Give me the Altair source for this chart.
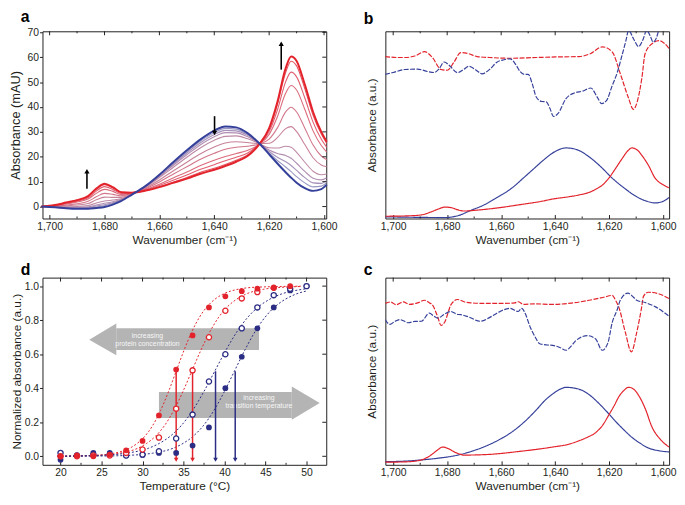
import altair as alt
import pandas as pd

FONT = "Liberation Sans"
INK = "#231f20"
RED = "#e3232b"
BLUE = "#35409a"
NAVY = "#2b2c83"
GREY = "#b4b4b4"
W, H = 288, 190

# ---------------- panel a : temperature series of spectra ----------------
a_wn = [1703, 1698, 1694, 1690, 1686, 1683, 1680, 1677, 1674, 1670, 1665, 1660, 1655, 1650,
        1645, 1640, 1636, 1632, 1628, 1624, 1620, 1617, 1614, 1612, 1610, 1607, 1604, 1601, 1599]
a_s0 = [0, -0.3, -0.7, -0.9, -0.9, -0.6, -0.2, 0.8, 2.2, 4.8, 8.3, 12.8, 17.8, 22.6, 27.0, 30.5, 32.2,
        31.8, 29.6, 25.8, 21.0, 17.3, 13.8, 11.6, 9.6, 7.4, 6.3, 7.0, 8.8]
a_s1 = [0, -0.3, -0.6, -0.7, -0.6, -0.2, 0.3, 1.2, 2.4, 4.8, 8.2, 12.6, 17.4, 22.0, 26.3, 29.7, 31.4,
        31.1, 29.1, 25.7, 21.5, 18.5, 15.9, 14.0, 12.0, 9.5, 7.9, 8.2, 9.7]
a_s2 = [0, -0.2, -0.5, -0.6, -0.4, 0.2, 0.7, 1.5, 2.6, 4.9, 8.1, 12.3, 17.0, 21.5, 25.6, 28.9, 30.6,
        30.4, 28.7, 25.7, 22.1, 19.8, 18.0, 16.5, 14.5, 11.6, 9.5, 9.3, 10.5]
a_s3 = [0, -0.2, -0.3, -0.3, -0.1, 0.6, 1.3, 1.9, 2.8, 4.9, 8.0, 12.0, 16.5, 20.8, 24.8, 28.0, 29.7,
        29.6, 28.1, 25.6, 22.7, 21.3, 20.5, 19.4, 17.4, 14.1, 11.4, 10.7, 11.6]
a_s4 = [0, -0.1, -0.1, 0.0, 0.4, 1.4, 2.2, 2.6, 3.1, 5.0, 7.8, 11.6, 15.7, 19.8, 23.6, 26.6, 28.2,
        28.4, 27.3, 25.5, 23.6, 23.5, 24.2, 23.8, 21.8, 17.8, 14.2, 12.8, 13.1]
a_s5 = [0, 0.1, 0.3, 0.6, 1.2, 2.7, 3.8, 3.7, 3.7, 5.1, 7.5, 10.7, 14.3, 17.8, 21.2, 23.9, 25.5,
        26.0, 25.7, 25.3, 25.4, 27.7, 31.3, 32.1, 30.1, 24.9, 19.6, 16.7, 16.0]
a_s6 = [0, 0.2, 0.6, 1.1, 2.1, 3.9, 5.3, 4.9, 4.3, 5.3, 7.2, 9.9, 13.0, 16.0, 19.0, 21.4, 23.0,
        23.8, 24.2, 25.0, 27.1, 31.6, 38.0, 39.9, 38.0, 31.5, 24.7, 20.3, 18.8]
a_s7 = [0, 0.4, 1.0, 1.8, 3.0, 5.3, 6.9, 6.1, 4.9, 5.4, 6.9, 9.0, 11.5, 13.9, 16.5, 18.6, 20.1,
        21.3, 22.5, 24.8, 29.0, 36.1, 45.5, 48.6, 46.8, 39.0, 30.4, 24.5, 21.9]
a_s8 = [0, 0.5, 1.3, 2.1, 3.5, 6.2, 8.0, 6.9, 5.3, 5.5, 6.7, 8.5, 10.6, 12.7, 15.0, 16.8, 18.4,
        19.8, 21.4, 24.7, 30.1, 38.8, 50.1, 54.0, 52.1, 43.6, 33.9, 27.0, 23.8]
a_s9 = [0, 0.6, 1.5, 2.5, 4.0, 6.9, 8.8, 7.5, 5.7, 5.6, 6.5, 8.0, 9.8, 11.7, 13.8, 15.4, 16.9,
        18.6, 20.6, 24.6, 31.1, 41.0, 53.8, 58.4, 56.5, 47.3, 36.7, 29.1, 25.3]
a_s10 = [0, 0.6, 1.6, 2.6, 4.2, 7.2, 9.2, 7.8, 5.8, 5.6, 6.4, 7.8, 9.5, 11.2, 13.2, 14.8, 16.3,
         18.0, 20.2, 24.5, 31.5, 42.0, 55.5, 60.3, 58.5, 49.0, 38.0, 30.0, 26.0]
a_mid_colors = ["#8d89bb", "#9b86b3", "#a982a8", "#b67c9b", "#c2738c", "#cd677d",
                "#d75b6e", "#de4e60", "#e24250"]
a_arrow_x = [1686.4, 1639.9, 1615.6]
a_arrow_from = [7.2, 36.3, 55.0]
a_arrow_to = [14.2, 29.5, 65.4]
a_arrow_shape = ["triangle-up", "triangle-down", "triangle-up"]
a_yticks = [0, 10, 20, 30, 40, 50, 60, 70]

# ---------------- panel b : spectra + second derivatives ----------------
b_blue_wn = [1703, 1690, 1681, 1676, 1671.3, 1666, 1661.6, 1656, 1651.8, 1648, 1644.5, 1640, 1636,
             1632, 1627.4, 1623, 1618.9, 1614, 1610.4, 1606, 1603, 1600, 1597.8]
b_blue_v = [0.9, 0.6, 0.5, 1.5, 4.3, 7.5, 11.2, 16.3, 21.6, 26.5, 31.0, 35.8, 37.7,
            36.8, 32.9, 27.5, 21.6, 15.8, 12.1, 9.2, 8.3, 9.2, 11.2]
b_red_wn = [1703, 1695, 1689.6, 1686, 1683, 1681, 1678.5, 1676, 1673.8, 1668, 1660, 1653, 1645,
            1640.9, 1635, 1631.1, 1627, 1625, 1622, 1620.1, 1617.5, 1615.2, 1613, 1611.6, 1609.5,
            1607.9, 1605.5, 1603, 1600, 1597.8]
b_red_v = [1.2, 1.4, 1.9, 3.5, 5.2, 6.1, 5.8, 4.6, 4.0, 4.6, 5.9, 7.4, 9.2,
           10.4, 11.6, 12.6, 14.2, 15.6, 18.5, 21.6, 27.0, 32.0, 36.3, 37.7, 36.5,
           33.7, 28.5, 21.6, 18.0, 16.4]
b_red_d_wn = [1703, 1698, 1695.7, 1692, 1688.4, 1685.5, 1682.3, 1680, 1677.5, 1675, 1672, 1668.9,
              1663, 1656.7, 1647, 1640, 1631.1, 1627, 1622.5, 1618.9, 1615.8, 1613, 1611, 1609.5,
              1607.9, 1606.7, 1604, 1601.5, 1599.5, 1597.8]
b_red_d_v = [86.5, 86.0, 86.0, 86.8, 89.1, 86.0, 79.6, 79.2, 83.5, 88.6, 88.0, 86.5,
             85.9, 85.6, 86.0, 86.3, 86.5, 88.0, 91.7, 89.0, 77.0, 65.0, 58.3, 63.0,
             75.0, 88.0, 93.5, 95.0, 93.5, 90.8]
b_blue_d_wn = [1703, 1700, 1695.7, 1691, 1687.2, 1684.8, 1683, 1681.1, 1679, 1676.2, 1674, 1672,
               1669.5, 1667.1, 1664, 1661.6, 1659, 1656.7, 1654.5, 1653, 1651.5, 1650, 1648.5,
               1647, 1645, 1643.3, 1642, 1640.6, 1639, 1636, 1633, 1629.9, 1626.8, 1624.5,
               1622.8, 1621, 1618.9, 1617, 1615.2, 1613.8, 1612.8, 1611, 1609.1, 1607.5, 1606.1,
               1604.8, 1603.7, 1602.5, 1601.5, 1600]
b_blue_d_v = [77.0, 78.0, 79.6, 79.8, 78.5, 78.0, 80.0, 83.6, 81.5, 77.9, 79.5, 81.3,
              79.5, 77.3, 80.0, 83.5, 84.8, 85.3, 82.0, 78.5, 77.0, 77.0, 72.0,
              64.9, 62.5, 62.3, 59.0, 54.5, 56.0, 64.0, 67.0, 68.0, 69.7, 65.0,
              61.4, 63.0, 70.9, 78.0, 87.4, 95.0, 100.5, 96.0, 91.8, 95.5, 100.5,
              97.5, 94.2, 96.5, 101.5, 110.0]

# ---------------- panel c : spectra + second derivatives ----------------
c_blue_wn = [1703, 1695, 1689.6, 1683, 1677.4, 1671, 1665.2, 1660, 1655.5, 1651, 1647, 1643.5,
             1640.9, 1638, 1636, 1633, 1629.9, 1627, 1623.8, 1620.5, 1617.7, 1614.5, 1611.6,
             1608.5, 1605.5, 1601.5, 1597.8]
c_blue_v = [1.7, 2.0, 2.6, 3.6, 4.8, 7.2, 10.3, 14.0, 18.1, 23.5, 29.3, 34.8,
            37.9, 40.5, 41.4, 41.0, 39.7, 37.0, 32.8, 27.8, 23.3, 18.6, 14.7,
            11.5, 9.0, 7.5, 6.9]
c_red_wn = [1703, 1695, 1689.6, 1686, 1683.5, 1681.7, 1679.5, 1677.4, 1675, 1673.8, 1665.2, 1653,
            1640.9, 1635, 1631.1, 1628, 1625, 1622.5, 1620.1, 1618, 1616.5, 1614.5, 1612.8, 1611,
            1609.1, 1606.5, 1604.3, 1601, 1597.8]
c_red_v = [1.4, 1.6, 2.6, 5.2, 8.0, 9.5, 8.6, 6.9, 5.6, 5.2, 5.5, 7.2,
           9.5, 11.0, 12.9, 14.8, 17.2, 21.0, 26.7, 32.0, 36.2, 39.8, 41.4, 40.5,
           37.1, 29.5, 20.7, 13.5, 9.5]
c_red_d_wn = [1703, 1701, 1698.8, 1696.3, 1693.9, 1691, 1688.4, 1686.5, 1685.4, 1683.5, 1682.3,
              1681, 1679.5, 1678.7, 1676.2, 1673.5, 1671.3, 1665, 1659.1, 1655, 1653.7, 1651.8,
              1648, 1640.9, 1634, 1627.4, 1622, 1618.9, 1617.5, 1616.5, 1614, 1611.8, 1609.8,
              1608, 1607.3, 1605.5, 1602, 1597.8]
c_red_d_v = [86.2, 87.0, 85.5, 87.0, 85.7, 86.5, 87.9, 86.5, 85.3, 79.0, 74.5,
             76.0, 82.0, 85.3, 88.3, 87.0, 86.5, 86.2, 86.2, 86.5, 87.1, 85.7,
             86.0, 85.7, 86.4, 87.9, 89.5, 90.5, 87.5, 84.5, 70.7, 60.3, 70.7,
             84.0, 90.0, 92.2, 91.5, 88.8]
c_blue_d_wn = [1703, 1701.2, 1699.5, 1697.6, 1696, 1694.5, 1692, 1689.6, 1686.6, 1685, 1683.5,
               1681, 1678.7, 1676.5, 1675, 1672.6, 1667.7, 1664.5, 1661.6, 1656.7, 1653.7, 1652.4,
               1651, 1649.4, 1647.5, 1645.7, 1643, 1640.9, 1638, 1636, 1634, 1632.3, 1628, 1625,
               1622.6, 1620.5, 1618.9, 1617, 1615.9, 1613.1, 1611, 1609.8, 1606.7, 1603, 1597.8]
c_blue_d_v = [77.6, 75.0, 76.5, 77.6, 76.8, 75.9, 76.6, 76.7, 81.0, 79.5, 78.4,
              80.5, 81.9, 80.5, 80.2, 79.3, 76.7, 78.5, 81.0, 83.6, 81.9, 83.6,
              80.5, 74.1, 68.5, 64.7, 64.0, 63.8, 62.5, 61.2, 63.5, 66.4, 69.0, 67.2,
              61.2, 65.0, 75.9, 83.0, 87.9, 91.7, 89.5, 87.9, 86.7, 84.5, 79.3]

# ---------------- panel d : melting curves ----------------
d_T = [20, 22, 24, 26, 28, 30, 32, 34.1, 36.1, 38.1, 40.1, 42.1, 44, 46, 48, 50]
d_red_filled = [0.0, 0.005, 0.0, 0.01, 0.035, 0.09, 0.24, 0.51, 0.71, 0.875, 0.94, 0.97, 0.985, 0.99, 1.0]
d_red_open = [0.0, 0.0, 0.005, 0.005, 0.02, 0.04, 0.11, 0.28, 0.505, 0.70, 0.855, 0.928, 0.965, 0.99]
d_blue_open = [0.02, 0.005, 0.01, 0.01, 0.005, 0.01, 0.03, 0.105, 0.245, 0.44, 0.60, 0.752, 0.875, 0.947, 0.985, 1.0]
d_blue_filled = [-0.02, 0.005, 0.02, 0.02, 0.005, 0.008, 0.02, 0.02, 0.063, 0.17, 0.40, 0.585, 0.752, 0.875, 0.975, 1.0]

fit_rf_T = [19.6, 24.6, 26.5, 28.4, 29.35, 30.3, 31.25, 32.2, 33.15, 34.1, 35.05, 36.0, 36.95,
            37.9, 38.85, 39.8, 41.7, 43.6, 49.3]
fit_rf_v = [0.0004, 0.0067, 0.018, 0.047, 0.076, 0.119, 0.182, 0.269, 0.378, 0.5, 0.622, 0.731,
            0.818, 0.881, 0.924, 0.953, 0.982, 0.993, 0.9997]
fit_ro_T = [19.6, 25.0, 27.2, 29.4, 30.5, 31.6, 32.7, 33.8, 34.9, 36.0, 37.1, 38.2, 39.3, 40.4,
            41.5, 42.6, 44.8, 47.0, 49.2]
fit_ro_v = [0.0006, 0.0067, 0.018, 0.047, 0.076, 0.119, 0.182, 0.269, 0.378, 0.5, 0.622, 0.731,
            0.818, 0.881, 0.924, 0.953, 0.982, 0.993, 0.9975]
fit_bo_T = [19.6, 25.3, 28.0, 30.7, 32.05, 33.4, 34.75, 36.1, 37.45, 38.8, 40.15, 41.5, 42.85,
            44.2, 45.55, 46.9, 49.6, 50.0]
fit_bo_v = [0.0008, 0.0067, 0.018, 0.047, 0.076, 0.119, 0.182, 0.269, 0.378, 0.5, 0.622, 0.731,
            0.818, 0.881, 0.924, 0.953, 0.982, 0.985]
fit_bf_T = [19.6, 26.2, 28.7, 31.2, 33.7, 34.95, 36.2, 37.45, 38.7, 39.95, 41.2, 42.45, 43.7,
            44.95, 46.2, 47.45, 48.7, 49.95]
fit_bf_v = [0.0002, 0.0025, 0.0067, 0.018, 0.047, 0.076, 0.119, 0.182, 0.269, 0.378, 0.5, 0.622,
            0.731, 0.818, 0.881, 0.924, 0.953, 0.971]

d_tm_T = [34.1, 36.1, 38.9, 41.3]
d_tm_top = [0.5, 0.5, 0.5, 0.5]
d_tm_bottom = [-0.02, -0.02, -0.02, -0.02]
d_tm_color = [RED, RED, NAVY, NAVY]
d_xticks = [20, 25, 30, 35, 40, 45, 50]
d_xminor = [22.5, 27.5, 32.5, 37.5, 42.5, 47.5]
d_yticks = [0, 0.2, 0.4, 0.6, 0.8, 1.0]

# grey annotation arrows (body rectangle + head)
conc_body = {"x": 26.8, "x2": 44.2, "y": 0.625, "y2": 0.752}
conc_head_x = [23.5, 26.8]
conc_head_top = [0.685, 0.78]
conc_head_bot = [0.685, 0.594]
conc_text = ["increasing", "protein concentration"]
conc_text_x = [30.6, 30.6]
conc_text_y = [0.708, 0.662]
temp_body = {"x": 32.0, "x2": 48.2, "y": 0.225, "y2": 0.378}
temp_head_x = [48.2, 51.6]
temp_head_top = [0.41, 0.313]
temp_head_bot = [0.215, 0.313]
temp_text = ["increasing", "transition temperature"]
temp_text_x = [44.2, 44.2]
temp_text_y = [0.34, 0.293]

wn_major = [1700, 1680, 1660, 1640, 1620, 1600]
wn_minor = [1690, 1670, 1650, 1630, 1610]
TICK = 4
MINOR = 2


def xy(xs, ys):
    return pd.DataFrame({"x": xs, "y": ys})


def make_enc(xscale, yscale, xaxis, yaxis):
    def X(f="x"):
        return alt.X(f"{f}:Q", scale=xscale, axis=xaxis)

    def Y(f="y"):
        return alt.Y(f"{f}:Q", scale=yscale, axis=yaxis)
    return X, Y


def bottom_axis(values, title, fmt):
    return alt.Axis(values=values, format=fmt, tickSize=TICK, offset=-TICK, domain=False,
                    labelPadding=3, title=title, titlePadding=3, grid=False)


def x_ticks(X, values, size, bottom):
    if bottom:
        ys = dict(y=alt.value(H), y2=alt.value(H - size))
    else:
        ys = dict(y=alt.value(0), y2=alt.value(size))
    return alt.Chart(pd.DataFrame({"x": values})).mark_rule(color=INK, strokeWidth=1).encode(x=X(), **ys)


def right_ticks(Y, values):
    return alt.Chart(pd.DataFrame({"y": values})).mark_rule(color=INK, strokeWidth=1).encode(
        y=Y(), x=alt.value(W), x2=alt.value(W - TICK))


def letter(t, dy):
    return alt.Chart(pd.DataFrame({"t": [t]})).mark_text(
        font=FONT, fontSize=16, fontWeight="bold", align="left", baseline="alphabetic", color="black"
    ).encode(x=alt.value(-22), y=alt.value(dy), text="t:N")


def wn_ticks(X):
    return [x_ticks(X, wn_major, TICK, False), x_ticks(X, wn_minor, MINOR, False),
            x_ticks(X, wn_minor, MINOR, True)]


# ---------- panel a ----------
Xa, Ya = make_enc(
    alt.Scale(domain=[1599.2, 1702.6], reverse=True, nice=False, zero=False),
    alt.Scale(domain=[-4.8, 70.4], nice=False, zero=False),
    bottom_axis(wn_major, "Wavenumber (cm⁻¹)", ",d"),
    alt.Axis(values=a_yticks, tickSize=3, domain=False, labelPadding=1, titleFontSize=13,
             title="Absorbance (mAU)", titlePadding=5, grid=False))
a_all = [a_s0, a_s1, a_s2, a_s3, a_s4, a_s5, a_s6, a_s7, a_s8, a_s9, a_s10]
rows = []
for i in range(1, 10):
    for w, v in zip(a_wn, a_all[i]):
        rows.append({"x": w, "y": v, "s": i})
dfa_mid = pd.DataFrame(rows)

a_mid = alt.Chart(dfa_mid).mark_line(interpolate="monotone", strokeWidth=1.1, opacity=0.9).encode(
    x=Xa(), y=Ya(),
    color=alt.Color("s:N", scale=alt.Scale(domain=list(range(1, 10)), range=a_mid_colors), legend=None),
    detail="s:N")
a_red = alt.Chart(xy(a_wn, a_s10)).mark_line(interpolate="monotone", strokeWidth=2, color=RED).encode(
    x=Xa(), y=Ya())
a_blue = alt.Chart(xy(a_wn, a_s0)).mark_line(interpolate="monotone", strokeWidth=2, color=BLUE).encode(
    x=Xa(), y=Ya())
df_arr = pd.DataFrame({"x": a_arrow_x, "y": a_arrow_from, "y2": a_arrow_to, "shape": a_arrow_shape})
a_arr_line = alt.Chart(df_arr).mark_rule(color="black", strokeWidth=1.6).encode(
    x=Xa(), y=Ya(), y2="y2:Q")
a_arr_head = alt.Chart(df_arr).mark_point(filled=True, color="black", size=28, opacity=1).encode(
    x=Xa(), y=Ya("y2"), shape=alt.Shape("shape:N", scale=None))
panel_a = alt.layer(a_mid, a_red, a_blue, *wn_ticks(Xa), right_ticks(Ya, a_yticks),
                    a_arr_line, a_arr_head, letter("a", -9)).properties(width=W, height=H)


# ---------- panels b, c ----------
def spec_panel(name, blue, red, blue_d, red_d, dy):
    X, Y = make_enc(
        alt.Scale(domain=[1597.8, 1702.9], reverse=True, nice=False, zero=False),
        alt.Scale(domain=[0, 100], nice=False, zero=False),
        bottom_axis(wn_major, "Wavenumber (cm⁻¹)", ",d"),
        alt.Axis(ticks=False, labels=False, domain=False, title="Absorbance (a.u.)", titlePadding=7,
                 grid=False))

    def line(df, color, dash):
        return alt.Chart(df).mark_line(interpolate="monotone", strokeWidth=1.2, color=color, clip=True,
                                       strokeDash=dash).encode(x=X(), y=Y())
    return alt.layer(
        line(xy(*red_d), RED, [5, 1.5]), line(xy(*blue_d), BLUE, [5, 1.5]),
        line(xy(*blue), BLUE, [1, 0]), line(xy(*red), RED, [1, 0]), *wn_ticks(X),
        letter(name, dy)).properties(width=W, height=H)


panel_b = spec_panel("b", (b_blue_wn, b_blue_v), (b_red_wn, b_red_v), (b_blue_d_wn, b_blue_d_v),
                     (b_red_d_wn, b_red_d_v), -7)
panel_c = spec_panel("c", (c_blue_wn, c_blue_v), (c_red_wn, c_red_v), (c_blue_d_wn, c_blue_d_v),
                     (c_red_d_wn, c_red_d_v), -3)

# ---------- panel d ----------
Xd, Yd = make_enc(
    alt.Scale(domain=[17.8, 52.4], nice=False, zero=False),
    alt.Scale(domain=[-0.05, 1.05], nice=False, zero=False),
    bottom_axis(d_xticks, "Temperature (°C)", "d"),
    alt.Axis(values=d_yticks, format=".1f", tickSize=3, domain=False, labelPadding=1,
             title="Normalized absorbance (a.u.)", titlePadding=1, grid=False))

body_df = pd.DataFrame([conc_body, temp_body])
d_body = alt.Chart(body_df).mark_rect(color=GREY).encode(x=Xd(), x2="x2:Q", y=Yd(), y2="y2:Q")
d_head1 = alt.Chart(pd.DataFrame({"x": conc_head_x, "y": conc_head_top, "y2": conc_head_bot})).mark_area(
    color=GREY, orient="vertical").encode(x=Xd(), y=Yd(), y2="y2:Q")
d_head2 = alt.Chart(pd.DataFrame({"x": temp_head_x, "y": temp_head_top, "y2": temp_head_bot})).mark_area(
    color=GREY, orient="vertical").encode(x=Xd(), y=Yd(), y2="y2:Q")
txt_df = pd.DataFrame({"x": conc_text_x + temp_text_x, "y": conc_text_y + temp_text_y,
                       "t": conc_text + temp_text})
d_txt = alt.Chart(txt_df).mark_text(font=FONT, fontSize=7, color="#f7f7f7", align="center",
                                    baseline="middle").encode(x=Xd(), y=Yd(), text="t:N")


def fit(T, v, color):
    return alt.Chart(xy(T, v)).mark_line(interpolate="monotone", strokeWidth=1, color=color,
                                         strokeDash=[2, 2]).encode(x=Xd(), y=Yd())


tm_df = pd.DataFrame({"x": d_tm_T, "y": d_tm_top, "y2": d_tm_bottom, "c": d_tm_color})
d_tm = alt.Chart(tm_df).mark_rule(strokeWidth=1.5).encode(
    x=Xd(), y=Yd(), y2="y2:Q", color=alt.Color("c:N", scale=None))
d_tm_head = alt.Chart(tm_df).mark_point(shape="triangle-down", filled=True, size=22, opacity=1).encode(
    x=Xd(), y=Yd("y2"), color=alt.Color("c:N", scale=None))


def pts(vals, color, filled):
    df = xy(d_T[:len(vals)], vals)
    if filled:
        m = alt.Chart(df).mark_circle(color=color, size=34, opacity=1)
    else:
        m = alt.Chart(df).mark_circle(fill="white", stroke=color, strokeWidth=1.3, size=28, opacity=1)
    return m.encode(x=Xd(), y=Yd())


panel_d = alt.layer(
    d_body, d_head1, d_head2, d_txt,
    fit(fit_rf_T, fit_rf_v, RED), fit(fit_ro_T, fit_ro_v, RED),
    fit(fit_bo_T, fit_bo_v, NAVY), fit(fit_bf_T, fit_bf_v, NAVY),
    d_tm, d_tm_head,
    pts(d_blue_filled, NAVY, True), pts(d_blue_open, NAVY, False),
    pts(d_red_open, RED, False), pts(d_red_filled, RED, True),
    x_ticks(Xd, d_xticks, TICK, False), x_ticks(Xd, d_xminor, MINOR, False),
    x_ticks(Xd, d_xminor, MINOR, True), right_ticks(Yd, d_yticks),
    letter("d", -3)).properties(width=W, height=H)

chart = alt.concat(panel_a, panel_b, panel_d, panel_c, columns=2, align="all",
                   spacing={"row": 60, "column": 60}, bounds="flush").properties(
    padding={"left": 0, "top": -3, "right": 0, "bottom": 0}
).configure_axis(
    labelFont=FONT, titleFont=FONT, labelFontSize=10.5, titleFontSize=12, titleFontWeight="normal",
    labelColor=INK, titleColor=INK, tickColor=INK, grid=False
).configure_view(stroke=INK, strokeWidth=1)

chart.save("out.html", embed_options={"renderer": "svg", "actions": False})
